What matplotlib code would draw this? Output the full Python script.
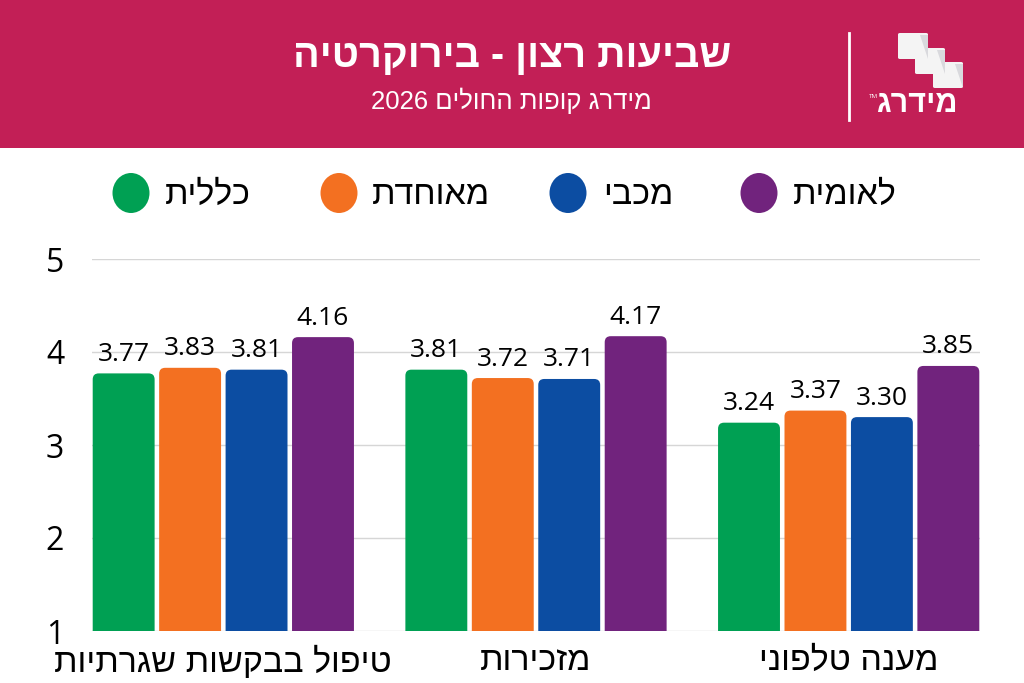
import re
import matplotlib
matplotlib.use("Agg")
import matplotlib.pyplot as plt
from matplotlib.patches import FancyBboxPatch, Rectangle, Ellipse, Polygon
import numpy as np

# ---------------- data ----------------
title = "שביעות רצון - בירוקרטיה"
subtitle = "מידרג קופות החולים 2026"
logo_text = "מידרג"
categories = ["טיפול בבקשות שגרתיות", "מזכירות", "מענה טלפוני"]
series_names = ["כללית", "מאוחדת", "מכבי", "לאומית"]
values_clalit = [3.77, 3.81, 3.24]
values_meuhedet = [3.83, 3.72, 3.37]
values_maccabi = [3.81, 3.71, 3.30]
values_leumit = [4.16, 4.17, 3.85]
yticks = [1, 2, 3, 4, 5]
colors = ["#00A053", "#F37021", "#0C4DA2", "#71237D"]
header_color = "#C21F56"

series_values = [values_clalit, values_meuhedet, values_maccabi, values_leumit]


def rtl(s):
    """Return a visually ordered string for left-to-right rendering."""
    r = s[::-1]
    return re.sub(r"[0-9A-Za-z.]+", lambda m: m.group(0)[::-1], r)


HEB = ["Liberation Sans", "DejaVu Sans"]
NUM = ["Open Sans", "DejaVu Sans"]

W, H = 1024, 683
fig = plt.figure(figsize=(W / 100, H / 100), dpi=100)
fig.patch.set_facecolor("white")


def fx(px):
    return px / W


def fy(py):
    return 1 - py / H


# ---------------- header ----------------
fig.patches.append(Rectangle((0, fy(148)), 1, 148 / H, transform=fig.transFigure,
                             facecolor=header_color, edgecolor="none", zorder=0))
fig.text(fx(512), fy(56), rtl(title), color="white", fontsize=28.5, fontweight="bold",
         family=HEB, ha="center", va="center")
fig.text(fx(511), fy(101), rtl(subtitle), color="white", fontsize=18.5,
         family=HEB, ha="center", va="center")
# separator line
fig.add_artist(plt.Line2D([fx(849), fx(849)], [fy(33), fy(120)], color="white",
                          lw=2, transform=fig.transFigure))
# logo flags
for (x0, y0) in [(898, 33), (915, 48), (933, 62)]:
    w, h = 30, 26
    fig.patches.append(FancyBboxPatch((fx(x0), fy(y0 + h)), fx(w), h / H,
                                      boxstyle="round,pad=0,rounding_size=0.002",
                                      transform=fig.transFigure, facecolor="#F4F4F4",
                                      edgecolor="none", zorder=2))
    fig.patches.append(Polygon([(fx(x0 + w - 8), fy(y0 + 2)), (fx(x0 + w), fy(y0 + 2)),
                                (fx(x0 + w), fy(y0 + h))], closed=True,
                               transform=fig.transFigure, facecolor="#D9D9DD",
                               edgecolor="none", zorder=3))
fig.text(fx(917), fy(104), rtl(logo_text), color="white", fontsize=22, fontweight="bold",
         family=HEB, ha="center", va="center")
fig.text(fx(873), fy(97), "TM", color="white", fontsize=4.5, family=NUM,
         ha="center", va="center")

# ---------------- legend ----------------
legend_circle_x = [131, 339, 568, 759]
legend_text_left = [165, 372, 603, 793]
for name, col, cx, tx in zip(series_names, colors, legend_circle_x, legend_text_left):
    fig.patches.append(Ellipse((fx(cx), fy(193)), fx(37), 40 / H, transform=fig.transFigure,
                               facecolor=col, edgecolor="none"))
    fig.text(fx(tx), fy(195), rtl(name), fontsize=24.5, family=HEB, ha="left",
             va="center", color="black")

# ---------------- axes ----------------
ax = fig.add_axes([fx(92), 1 - 631 / H, 888 / W, (631 - 259) / H])
ax.set_xlim(-0.42, 2.42)
ax.set_ylim(1, 5)
for sp in ax.spines.values():
    sp.set_visible(False)
ax.set_yticks(yticks)
ax.set_yticklabels([str(t) for t in yticks], fontsize=23, family=NUM)
ax.tick_params(axis="y", length=0, pad=20)
ax.yaxis.grid(True, color="#D6D6D6", lw=1)
ax.set_axisbelow(True)

x = np.arange(len(categories))
step = 0.2125
width = 0.198
offsets = (np.arange(len(series_names)) - 1.5) * step
ax.set_xticks(x)
ax.set_xticklabels([rtl(c) for c in categories], fontsize=24.5, family=HEB)
ax.tick_params(axis="x", length=0, pad=11)

px_per_x = 888 / 2.84
px_per_y = 372 / 4
aspect = px_per_x / px_per_y
r = 6 / px_per_x

for vals, col, off in zip(series_values, colors, offsets):
    bars = ax.bar(x + off, vals, width=width, bottom=0, color=col)
    for b, v in zip(bars, vals):
        b.set_visible(False)
        fb = FancyBboxPatch((b.get_x(), 0.8), b.get_width(), v - 0.8,
                            boxstyle=f"round,pad=0,rounding_size={r}",
                            mutation_aspect=aspect, facecolor=col, edgecolor="none",
                            zorder=2)
        ax.add_patch(fb)
        ax.text(b.get_x() + b.get_width() / 2, v + 0.07, f"{v:.2f}", ha="center",
                va="bottom", fontsize=19, family=NUM, color="black", zorder=3)

fig.savefig("out.png", dpi=100)
